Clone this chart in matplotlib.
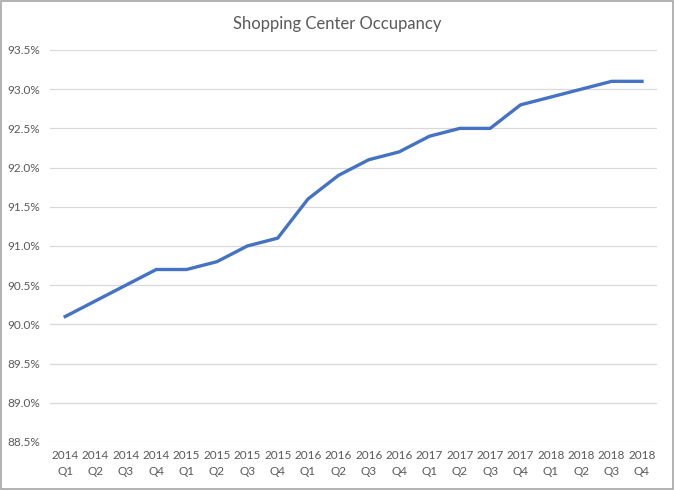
import matplotlib
matplotlib.use("Agg")
import matplotlib.pyplot as plt
from matplotlib.patches import Rectangle

quarters = ["2014\nQ1", "2014\nQ2", "2014\nQ3", "2014\nQ4",
            "2015\nQ1", "2015\nQ2", "2015\nQ3", "2015\nQ4",
            "2016\nQ1", "2016\nQ2", "2016\nQ3", "2016\nQ4",
            "2017\nQ1", "2017\nQ2", "2017\nQ3", "2017\nQ4",
            "2018\nQ1", "2018\nQ2", "2018\nQ3", "2018\nQ4"]
occupancy = [90.1, 90.3, 90.5, 90.7, 90.7, 90.8, 91.0, 91.1, 91.6, 91.9,
             92.1, 92.2, 92.4, 92.5, 92.5, 92.8, 92.9, 93.0, 93.1, 93.1]
yticks = [88.5, 89.0, 89.5, 90.0, 90.5, 91.0, 91.5, 92.0, 92.5, 93.0, 93.5]

plt.rcParams['font.family'] = ['Lato', 'DejaVu Sans']

fig = plt.figure(figsize=(6.74, 4.9), dpi=100)
ax = fig.add_axes([0.0742, 0.098, 0.9008, 0.800])

x = list(range(len(quarters)))
ax.plot(x, occupancy, color="#4472C4", linewidth=2.4, solid_joinstyle="round")

ax.set_xlim(-0.5, len(quarters) - 0.5)
ax.set_ylim(88.5, 93.5)
ax.set_yticks(yticks)
ax.set_yticklabels([f"{v:.1f}%" for v in yticks])
ax.set_xticks(x)
ax.set_xticklabels(quarters, linespacing=1.5)
ax.tick_params(axis="both", length=0, colors="#595959", labelsize=8.5)
ax.tick_params(axis="y", pad=7)
ax.tick_params(axis="x", pad=6)
ax.grid(axis="y", color="#D9D9D9", linewidth=0.9)
ax.set_axisbelow(True)
for s in ax.spines.values():
    s.set_visible(False)

fig.text(0.5, 0.952, "Shopping Center Occupancy", ha="center", va="center",
         fontsize=12, color="#595959")

fig.patches.append(Rectangle((0.001, 0.002), 0.997, 0.996, transform=fig.transFigure,
                             fill=False, edgecolor="#A6A6A6", linewidth=1.2))

fig.savefig("out.png", dpi=100)
